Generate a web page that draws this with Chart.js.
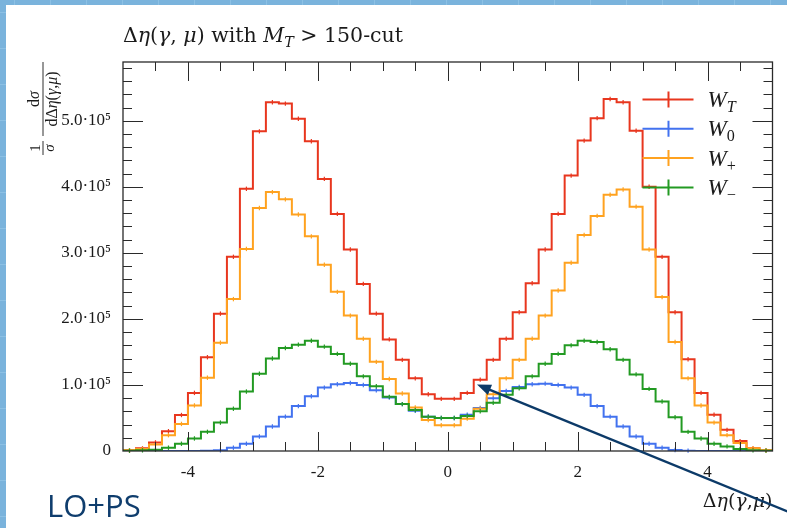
<!DOCTYPE html>
<html>
<head>
<meta charset="utf-8">
<script src="https://cdn.jsdelivr.net/npm/chart.js@4.4.1/dist/chart.umd.min.js"></script>
<style>
  html, body { margin: 0; padding: 0; background: #fff; }
  canvas { display: block; }
</style>
</head>
<body>
<canvas id="chart" width="787" height="528"></canvas>
<script>
// Delta eta(gamma, mu) distributions, values in units of 1e5
const SCALE = 1e5;
const binEdges = Array.from({ length: 51 }, (_, i) => -5 + 0.2 * i);

const labels = ['W_T', 'W_0', 'W_+', 'W_-'];

const wT = [0.01, 0.04, 0.13, 0.30, 0.545, 0.88, 1.42, 2.08, 2.94, 3.97,
  4.84, 5.28, 5.26, 5.03, 4.69, 4.12, 3.59, 3.05, 2.53, 2.08,
  1.69, 1.38, 1.10, 0.86, 0.79, 0.79, 0.88, 1.08, 1.38, 1.70,
  2.10, 2.54, 3.05, 3.59, 4.17, 4.70, 5.04, 5.33, 5.28, 4.85,
  4.00, 2.94, 2.10, 1.39, 0.88, 0.55, 0.32, 0.15, 0.04, 0.01];

const w0 = [0, 0, 0, 0, 0, 0, 0.003, 0.01, 0.05, 0.11,
  0.22, 0.37, 0.52, 0.68, 0.83, 0.96, 1.01, 1.03, 1.00, 0.92,
  0.81, 0.71, 0.61, 0.52, 0.50, 0.50, 0.55, 0.65, 0.80, 0.91,
  0.97, 1.01, 1.02, 1.00, 0.96, 0.85, 0.68, 0.52, 0.37, 0.22,
  0.11, 0.05, 0.015, 0.005, 0, 0, 0, 0, 0, 0];

const wPlus = [0.01, 0.03, 0.10, 0.24, 0.41, 0.69, 1.11, 1.64, 2.30, 3.06,
  3.68, 3.92, 3.81, 3.58, 3.25, 2.82, 2.41, 2.05, 1.70, 1.35,
  1.09, 0.87, 0.66, 0.47, 0.39, 0.39, 0.49, 0.64, 0.86, 1.10,
  1.38, 1.70, 2.05, 2.43, 2.85, 3.27, 3.56, 3.88, 3.96, 3.70,
  3.05, 2.33, 1.65, 1.10, 0.69, 0.43, 0.24, 0.12, 0.04, 0.01];

const wMinus = [0.005, 0.01, 0.02, 0.05, 0.11, 0.19, 0.29, 0.43, 0.64, 0.90,
  1.17, 1.40, 1.56, 1.61, 1.67, 1.58, 1.47, 1.32, 1.13, 0.98,
  0.82, 0.71, 0.62, 0.52, 0.50, 0.50, 0.53, 0.60, 0.73, 0.85,
  0.95, 1.13, 1.32, 1.47, 1.60, 1.67, 1.65, 1.54, 1.38, 1.16,
  0.94, 0.75, 0.51, 0.29, 0.19, 0.11, 0.07, 0.03, 0.01, 0.005];

const xTicks = [-4, -2, 0, 2, 4];
const yTicks = [0, 1, 2, 3, 4, 5];

const colors = ['#e8361e', '#4272ef', '#ffa21f', '#229a22'];
const SERIF = '"Liberation Serif", "DejaVu Serif", serif';
const WIDE_SERIF = '"DejaVu Serif", "Liberation Serif", serif';

function histPoints(values) {
  return binEdges.map((x, i) => ({ x, y: values[Math.min(i, values.length - 1)] * SCALE }));
}

const seriesList = [wT, w0, wPlus, wMinus];

// draws text runs: [text, italic, sub]
function drawRuns(ctx, runs, x, y, size, family = SERIF) {
  let cx = x;
  runs.forEach(([t, it, sub]) => {
    const s = sub ? size * 0.7 : size;
    ctx.font = `${it ? 'italic ' : ''}${s}px ${family}`;
    ctx.fillText(t, cx, sub ? y + size * 0.22 : y);
    cx += ctx.measureText(t).width;
  });
  return cx - x;
}

function runsWidth(ctx, runs, size, family = SERIF) {
  let w = 0;
  runs.forEach(([t, it, sub]) => {
    const s = sub ? size * 0.7 : size;
    ctx.font = `${it ? 'italic ' : ''}${s}px ${family}`;
    w += ctx.measureText(t).width;
  });
  return w;
}

const backdrop = {
  id: 'backdrop',
  beforeDraw(chart) {
    const ctx = chart.ctx;
    ctx.save();
    ctx.fillStyle = '#ffffff';
    ctx.fillRect(0, 0, chart.width, chart.height);
    ctx.fillStyle = '#7ab3dc';
    ctx.fillRect(0, 0, chart.width, 5);
    ctx.fillRect(0, 0, 6, chart.height);
    ctx.strokeStyle = '#8cc0e4';
    ctx.lineWidth = 1;
    for (let y = 12; y < chart.height; y += 36) {
      ctx.beginPath(); ctx.moveTo(0, y + 0.5); ctx.lineTo(6, y + 0.5); ctx.stroke();
    }
    for (let x = 14; x < chart.width; x += 36) {
      ctx.beginPath(); ctx.moveTo(x + 0.5, 0); ctx.lineTo(x + 0.5, 5); ctx.stroke();
    }
    ctx.restore();
  }
};

const frame = {
  id: 'frame',
  afterDatasetsDraw(chart) {
    const { ctx, chartArea: a, scales: { x, y } } = chart;
    ctx.save();

    // small error ticks at bin centres
    chart.data.datasets.forEach((ds, i) => {
      ctx.strokeStyle = ds.borderColor;
      ctx.lineWidth = 1.2;
      seriesList[i].forEach((v, b) => {
        if (v <= 0.004) return;
        const px = x.getPixelForValue((binEdges[b] + binEdges[b + 1]) / 2);
        const py = y.getPixelForValue(v * SCALE);
        ctx.beginPath(); ctx.moveTo(px, py - 2.2); ctx.lineTo(px, py + 2.2); ctx.stroke();
      });
    });

    ctx.strokeStyle = '#2a2a2a';
    ctx.lineWidth = 1;
    // x ticks, every 0.5, major every 2
    for (let v = -4.5; v <= 4.5; v += 0.5) {
      const px = Math.round(x.getPixelForValue(v)) + 0.5;
      const len = xTicks.includes(v) ? 19 : 9;
      ctx.beginPath();
      ctx.moveTo(px, a.bottom); ctx.lineTo(px, a.bottom - len);
      ctx.moveTo(px, a.top); ctx.lineTo(px, a.top + len);
      ctx.stroke();
    }
    // y ticks, every 0.2e5, major every 1e5
    for (let k = 1; k <= 29; k++) {
      const v = k * 0.2;
      const py = Math.round(y.getPixelForValue(v * SCALE)) + 0.5;
      const len = k % 5 === 0 ? 20 : 9;
      ctx.beginPath();
      ctx.moveTo(a.left, py); ctx.lineTo(a.left + len, py);
      ctx.moveTo(a.right, py); ctx.lineTo(a.right - len, py);
      ctx.stroke();
    }
    ctx.lineWidth = 1.3;
    ctx.strokeRect(a.left, a.top, a.right - a.left, a.bottom - a.top);
    ctx.restore();
  },
  afterDraw(chart) {
    const { ctx, chartArea: a } = chart;
    ctx.save();
    ctx.fillStyle = '#1a1a1a';
    ctx.textBaseline = 'alphabetic';
    ctx.textAlign = 'left';

    // title
    const titleRuns = [['Δ', false], ['η', true], ['(', false], ['γ', true], [', ', false],
      ['μ', true], [')', false], [' with ', false], ['M', true], ['T', true, true], [' > 150-cut', false]];
    drawRuns(ctx, titleRuns, a.left, 42, 20.5, WIDE_SERIF);

    // legend
    chart.data.datasets.forEach((ds, i) => {
      const yy = a.top + 37.5 + 29.3 * i;
      ctx.strokeStyle = ds.borderColor;
      ctx.lineWidth = 2;
      ctx.beginPath();
      ctx.moveTo(a.right - 130, yy); ctx.lineTo(a.right - 79, yy);
      ctx.moveTo(a.right - 104, yy - 8); ctx.lineTo(a.right - 104, yy + 8);
      ctx.stroke();
      const [base, sub] = labels[i].split('_');
      const subText = sub === '-' ? '−' : sub;
      ctx.fillStyle = '#1a1a1a';
      drawRuns(ctx, [[base, true], [subText, sub === 'T', true]], a.right - 65, yy + 7.5, 23);
    });

    // x axis title, right aligned
    const xtRuns = [['Δ', false], ['η', true], ['(', false], ['γ', true], [',', false], ['μ', true], [')', false]];
    const xtw = runsWidth(ctx, xtRuns, 19, WIDE_SERIF);
    drawRuns(ctx, xtRuns, a.right - xtw, 507, 19, WIDE_SERIF);

    // y axis title, rotated fraction
    ctx.translate(43, 156);
    ctx.rotate(-Math.PI / 2);
    ctx.lineWidth = 0.9;
    ctx.strokeStyle = '#1a1a1a';
    ctx.beginPath();
    ctx.moveTo(1, 0); ctx.lineTo(15, 0);
    ctx.moveTo(20, 0); ctx.lineTo(94, 0);
    ctx.stroke();
    ctx.textAlign = 'center';
    ctx.font = `15px ${SERIF}`;
    ctx.fillText('1', 8, -3);
    ctx.font = `italic 15px ${SERIF}`;
    ctx.fillText('σ', 8, 11);
    ctx.textAlign = 'left';
    const numRuns = [['d', false], ['σ', true]];
    const nw = runsWidth(ctx, numRuns, 16);
    drawRuns(ctx, numRuns, 57 - nw / 2, -4, 16);
    const denRuns = [['dΔ', false], ['η', true], ['(', false], ['γ', true], [',', false], ['μ', true], [')', false]];
    const dw = runsWidth(ctx, denRuns, 16);
    drawRuns(ctx, denRuns, 57 - dw / 2, 14, 16);
    ctx.setTransform(1, 0, 0, 1, 0, 0);

    // LO+PS note
    ctx.fillStyle = '#0f3d6d';
    ctx.font = '31px "Open Sans", "Noto Sans", sans-serif';
    ctx.fillText('LO+PS', 47, 517);

    // annotation arrow
    const tip = { x: 477, y: 384.5 };
    const tail = { x: 800, y: 516.5 };
    const ang = Math.atan2(tail.y - tip.y, tail.x - tip.x);
    ctx.strokeStyle = '#0c3a68';
    ctx.fillStyle = '#0c3a68';
    ctx.lineWidth = 2.4;
    ctx.beginPath();
    ctx.moveTo(tail.x, tail.y);
    ctx.lineTo(tip.x + 8 * Math.cos(ang), tip.y + 8 * Math.sin(ang));
    ctx.stroke();
    ctx.beginPath();
    ctx.moveTo(tip.x, tip.y);
    ctx.lineTo(tip.x + 14 * Math.cos(ang) - 5.5 * Math.sin(ang), tip.y + 14 * Math.sin(ang) + 5.5 * Math.cos(ang));
    ctx.lineTo(tip.x + 14 * Math.cos(ang) + 5.5 * Math.sin(ang), tip.y + 14 * Math.sin(ang) - 5.5 * Math.cos(ang));
    ctx.closePath();
    ctx.fill();
    ctx.restore();
  }
};

const ctx = document.getElementById('chart').getContext('2d');
new Chart(ctx, {
  type: 'line',
  data: {
    datasets: seriesList.map((values, i) => ({
      label: labels[i],
      data: histPoints(values),
      borderColor: colors[i],
      borderWidth: 2,
      pointRadius: 0,
      stepped: 'before',
      fill: false,
      order: seriesList.length - i
    }))
  },
  options: {
    responsive: false,
    animation: false,
    layout: { padding: { left: 0, right: 14.5, top: 62, bottom: 0 } },
    scales: {
      x: {
        type: 'linear',
        min: -5,
        max: 5,
        afterBuildTicks: (s) => { s.ticks = xTicks.map((v) => ({ value: v })); },
        afterFit: (s) => { s.height = 77; },
        grid: { display: false, drawTicks: false },
        border: { display: false },
        ticks: {
          autoSkip: false,
          maxRotation: 0,
          padding: 11,
          color: '#1a1a1a',
          font: { family: SERIF, size: 17 },
          callback: (v) => String(v)
        }
      },
      y: {
        type: 'linear',
        min: 0,
        max: 5.89 * SCALE,
        afterBuildTicks: (s) => { s.ticks = yTicks.map((v) => ({ value: v * SCALE })); },
        afterFit: (s) => { s.width = 123; },
        grid: { display: false, drawTicks: false },
        border: { display: false },
        ticks: {
          autoSkip: false,
          padding: 12,
          color: '#1a1a1a',
          font: { family: SERIF, size: 17 },
          callback: (v) => (v === 0 ? '0' : `${(v / SCALE).toFixed(1)}·10⁵`)
        }
      }
    },
    plugins: {
      legend: { display: false },
      tooltip: { enabled: false },
      title: { display: false }
    }
  },
  plugins: [backdrop, frame]
});
</script>
</body>
</html>
